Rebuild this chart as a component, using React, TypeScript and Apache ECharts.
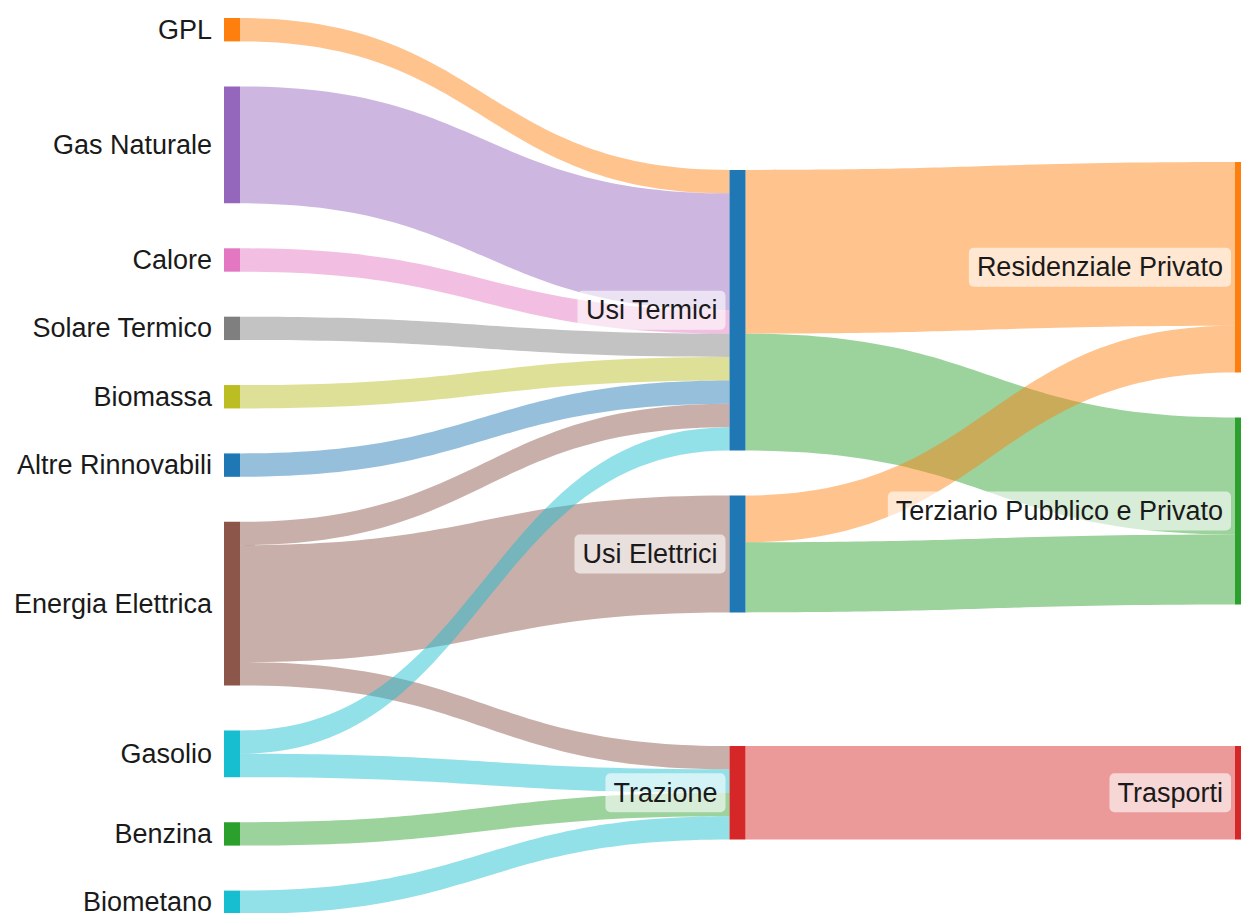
import React, { useEffect, useRef } from 'react';
import * as echarts from 'echarts';

const sourceNodes = [
  'GPL', 'Gas Naturale', 'Calore', 'Solare Termico', 'Biomassa',
  'Altre Rinnovabili', 'Energia Elettrica', 'Gasolio', 'Benzina', 'Biometano',
];
const useNodes = ['Usi Termici', 'Usi Elettrici', 'Trazione'];
const sectorNodes = ['Residenziale Privato', 'Terziario Pubblico e Privato', 'Trasporti'];

const sourceColors = [
  '#ff7f0e', '#9467bd', '#e377c2', '#7f7f7f', '#bcbd22',
  '#1f77b4', '#8c564b', '#17becf', '#2ca02c', '#17becf',
];
const useColors = ['#1f77b4', '#1f77b4', '#d62728'];
const sectorColors = ['#ff7f0e', '#2ca02c', '#d62728'];

const linkSources = [
  'GPL', 'Gas Naturale', 'Calore', 'Solare Termico', 'Biomassa', 'Altre Rinnovabili',
  'Energia Elettrica', 'Energia Elettrica', 'Energia Elettrica',
  'Gasolio', 'Gasolio', 'Benzina', 'Biometano',
  'Usi Termici', 'Usi Termici', 'Usi Elettrici', 'Usi Elettrici', 'Trazione',
];
const linkTargets = [
  'Usi Termici', 'Usi Termici', 'Usi Termici', 'Usi Termici', 'Usi Termici', 'Usi Termici',
  'Usi Termici', 'Usi Elettrici', 'Trazione',
  'Usi Termici', 'Trazione', 'Trazione', 'Trazione',
  'Residenziale Privato', 'Terziario Pubblico e Privato',
  'Residenziale Privato', 'Terziario Pubblico e Privato', 'Trasporti',
];
const linkValues = [1, 5, 1, 1, 1, 1, 1, 5, 1, 1, 1, 1, 1, 7, 5, 2, 3, 4];

// Vertical arrangement of the middle and right columns (fraction of the layout height),
// as in the reference's node arrangement.
const useNodeLocalY = [0.1696, 0.5329, 0.8125];
const sectorNodeLocalY = [0.1607, 0.4459, 0.8125];

function hexToRgba(hex: string, a: number) {
  const n = parseInt(hex.slice(1), 16);
  return `rgba(${(n >> 16) & 255},${(n >> 8) & 255},${n & 255},${a})`;
}

export default function App() {
  const ref = useRef<HTMLDivElement>(null);
  useEffect(() => {
    if (!ref.current) return;
    const chart = echarts.init(ref.current, undefined, { renderer: 'svg' });
    const colorOf: Record<string, string> = {};
    sourceNodes.forEach((n, i) => (colorOf[n] = sourceColors[i]));
    useNodes.forEach((n, i) => (colorOf[n] = useColors[i]));
    sectorNodes.forEach((n, i) => (colorOf[n] = sectorColors[i]));
    const nodes = [
      ...sourceNodes.map((name) => ({ name, itemStyle: { color: colorOf[name], borderWidth: 0 } })),
      ...useNodes.map((name, i) => ({
        name,
        localY: useNodeLocalY[i],
        itemStyle: { color: colorOf[name], borderWidth: 0 },
      })),
      ...sectorNodes.map((name, i) => ({
        name,
        localY: sectorNodeLocalY[i],
        itemStyle: { color: colorOf[name], borderWidth: 0 },
      })),
    ];
    const links = linkSources.map((s, i) => {
      const t = linkTargets[i];
      const base = sourceNodes.includes(s) ? colorOf[s] : colorOf[t];
      return {
        source: s,
        target: t,
        value: linkValues[i],
        lineStyle: { color: hexToRgba(base, 0.47), opacity: 1 },
      };
    });
    chart.setOption({
      animation: false,
      backgroundColor: '#ffffff',
      series: [
        {
          type: 'sankey',
          left: 224,
          top: 18,
          right: -10,
          bottom: -1,
          nodeWidth: 16,
          nodeGap: 45,
          layoutIterations: 0,
          draggable: false,
          emphasis: { disabled: true },
          data: nodes,
          links,
          label: {
            position: 'left',
            distance: 4,
            fontSize: 27,
            color: '#1a1a1a',
            fontFamily: '"Liberation Sans", Arial, sans-serif',
            backgroundColor: 'rgba(255,255,255,0.6)',
            borderRadius: 5,
            padding: [6, 8, 6, 8],
          },
          lineStyle: { curveness: 0.5, opacity: 1 },
        },
      ],
    });
    return () => chart.dispose();
  }, []);
  return (
    <div
      ref={ref}
      style={{ position: 'fixed', left: 0, top: 0, width: 1241, height: 913, background: '#fff' }}
    />
  );
}
